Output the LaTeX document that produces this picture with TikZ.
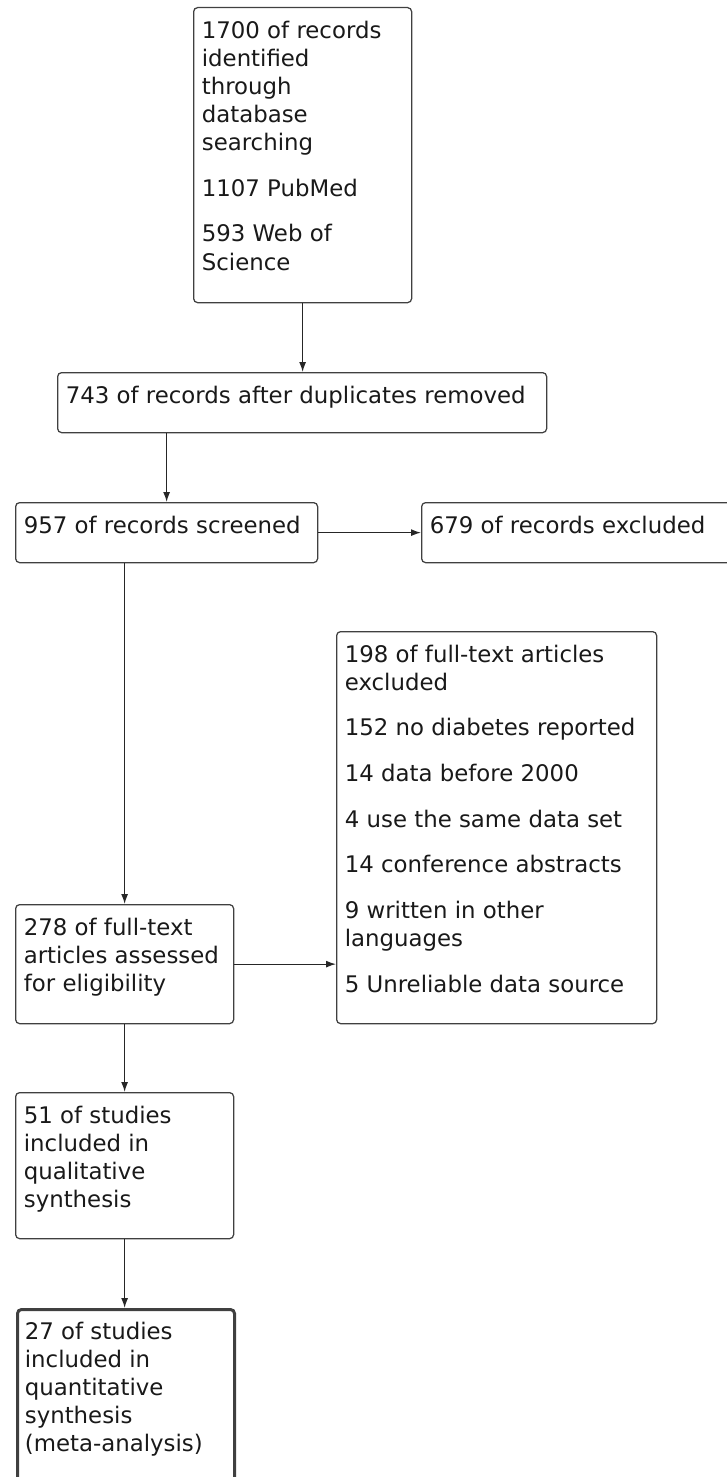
\documentclass[tikz,border=0pt]{standalone}
\usepackage{fontspec}
\newfontfamily\flowfont{DejaVu Sans}
\usetikzlibrary{arrows.meta}
\begin{document}
\begin{tikzpicture}
    [x=0.2mm,y=-0.2mm,
     box/.style={draw=black!75,line width=0.25mm,rounded corners=0.8mm,anchor=north west,inner sep=0pt},
     txt/.style={anchor=north west,align=left,inner xsep=1.7mm,inner ysep=2.7mm,text=black!90,font=\flowfont\fontsize{13pt}{16pt}\selectfont},
     arr/.style={draw=black!85,line width=0.25mm,-{Latex[length=2mm,width=1.4mm]}}]
    \useasboundingbox (0, 0) rectangle (727, 1477);
    \node (b1) at (193, 7) [box,minimum width=43.6mm,minimum height=59mm] {};
    \node (b2) at (57, 372) [box,minimum width=97.8mm,minimum height=12mm] {};
    \node (b3) at (15, 502) [box,minimum width=60.4mm,minimum height=12mm] {};
    \node (b4) at (421, 502) [box,minimum width=64mm,minimum height=12mm] {};
    \node (b5) at (336, 631) [box,minimum width=64mm,minimum height=78.4mm] {};
    \node (b278) at (15, 904) [box,minimum width=43.6mm,minimum height=23.8mm] {};
    \node (b51) at (15, 1092) [box,minimum width=43.6mm,minimum height=29.2mm] {};
    \node (b27) at (16, 1308) [box,line width=0.6mm,minimum width=43.4mm,minimum height=40mm] {};
    \node (t1) at (b1.north west) [txt] {1700 of records\\identified\\through\\database\\searching\\[3.5mm]1107 PubMed\\[3.5mm]593 Web of\\Science};
    \node (t2) at (b2.north west) [txt] {743 of records after duplicates removed};
    \node (t3) at (b3.north west) [txt] {957 of records screened};
    \node (t4) at (b4.north west) [txt] {679 of records excluded};
    \node (t5) at (b5.north west) [txt] {198 of full-text articles\\excluded\\[3.5mm]152 no diabetes reported\\[3.5mm]14 data before 2000\\[3.5mm]4 use the same data set\\[3.5mm]14 conference abstracts\\[3.5mm]9 written in other\\languages\\[3.5mm]5 Unreliable data source};
    \node (t278) at (b278.north west) [txt] {278 of full-text\\articles assessed\\for eligibility};
    \node (t51) at (b51.north west) [txt] {51 of studies\\included in\\qualitative\\synthesis};
    \node (t27) at (b27.north west) [txt] {27 of studies\\included in\\quantitative\\synthesis\\(meta-analysis)};
    \draw [arr] (b1.south) to (b1.south |- b2.north);
    \draw [arr] (b3.north |- b2.south) to (b3.north);
    \draw [arr] (b3.east) to (b4.west);
    \draw [arr] (b278.north |- b3.south) to (b278.north);
    \draw [arr] (b278.east) to (b278.east -| b5.west);
    \draw [arr] (b278.south) to (b51.north);
    \draw [arr] (b51.south) to (b51.south |- b27.north);
\end{tikzpicture}
\end{document}
